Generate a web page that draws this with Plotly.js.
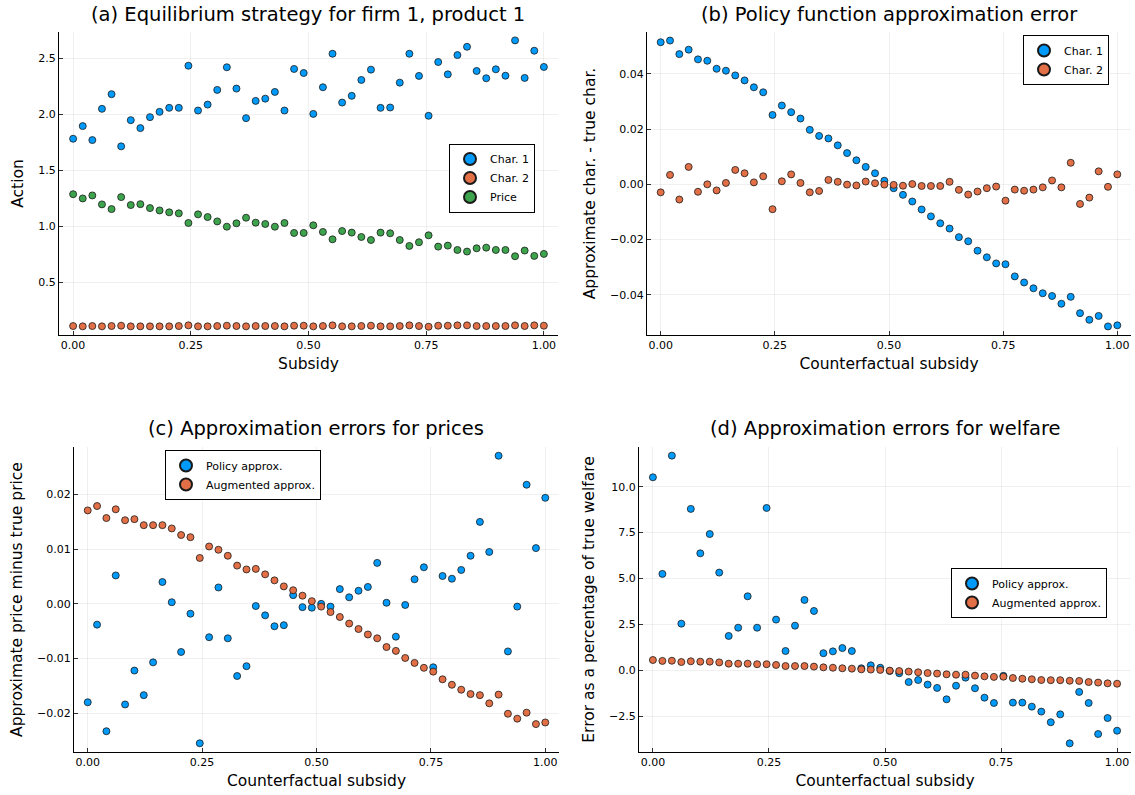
<!DOCTYPE html>
<html>
<head>
<meta charset="utf-8">
<script src="https://cdn.plot.ly/plotly-3.0.1.min.js"></script>
<style>html,body{margin:0;padding:0;background:#fff}</style>
</head>
<body>
<div id="chart" style="width:1135px;height:795px"></div>
<script>
// Counterfactual subsidy grid: 50 evenly spaced points on [0, 1]
const subsidy = Array.from({length: 50}, (_, i) => i / 49);

// (a) Equilibrium strategy for firm 1, product 1
const eqChar1 = [1.782,1.895,1.770,2.049,2.180,1.714,1.948,1.877,1.975,2.022,2.058,2.058,2.434,2.034,2.087,2.218,2.420,2.230,1.966,2.120,2.140,2.200,2.034,2.405,2.369,2.004,2.242,2.541,2.105,2.165,2.307,2.399,2.058,2.061,2.283,2.541,2.343,1.987,2.467,2.357,2.529,2.603,2.387,2.322,2.402,2.345,2.660,2.325,2.568,2.423];
const eqChar2 = [0.110,0.107,0.110,0.107,0.110,0.113,0.107,0.107,0.107,0.107,0.107,0.110,0.116,0.107,0.107,0.110,0.113,0.110,0.107,0.110,0.110,0.110,0.107,0.113,0.113,0.107,0.110,0.116,0.107,0.107,0.110,0.113,0.107,0.107,0.110,0.116,0.110,0.104,0.113,0.113,0.116,0.116,0.110,0.110,0.110,0.110,0.116,0.110,0.116,0.113];
const eqPrice = [1.287,1.249,1.276,1.196,1.154,1.261,1.190,1.198,1.163,1.142,1.125,1.116,1.030,1.107,1.083,1.044,0.997,1.027,1.077,1.033,1.021,0.997,1.030,0.941,0.941,1.009,0.950,0.884,0.958,0.944,0.905,0.878,0.944,0.938,0.878,0.825,0.858,0.920,0.819,0.828,0.789,0.775,0.804,0.810,0.789,0.789,0.733,0.784,0.736,0.754];

// (b) Policy function approximation error
const polErrChar1 = [0.0514,0.0520,0.0471,0.0487,0.0452,0.0447,0.0418,0.0411,0.0394,0.0376,0.0351,0.0333,0.0251,0.0285,0.0261,0.0238,0.0197,0.0175,0.0166,0.0141,0.0113,0.0087,0.0063,0.0040,0.0013,-0.0014,-0.0038,-0.0062,-0.0091,-0.0116,-0.0141,-0.0160,-0.0191,-0.0206,-0.0240,-0.0264,-0.0286,-0.0289,-0.0333,-0.0355,-0.0376,-0.0394,-0.0404,-0.0432,-0.0407,-0.0466,-0.0490,-0.0476,-0.0514,-0.0510];
const polErrChar2 = [-0.0029,0.0034,-0.0055,0.0063,-0.0027,0.0000,-0.0022,0.0005,0.0052,0.0040,0.0007,0.0029,-0.0090,0.0011,0.0036,0.0005,-0.0029,-0.0024,0.0016,0.0009,-0.0001,-0.0004,0.0010,0.0004,-0.0001,-0.0002,-0.0005,0.0001,-0.0006,-0.0006,-0.0006,0.0009,-0.0020,-0.0037,-0.0026,-0.0014,-0.0008,-0.0059,-0.0019,-0.0023,-0.0019,-0.0011,0.0014,-0.0011,0.0078,-0.0071,-0.0048,0.0047,-0.0009,0.0036];

// (c) Approximation errors for prices
const priceErrPolicy = [-0.0180,-0.0038,-0.0233,0.0052,-0.0184,-0.0122,-0.0167,-0.0107,0.0040,0.0003,-0.0088,-0.0018,-0.0255,-0.0061,0.0030,-0.0063,-0.0132,-0.0114,-0.0004,-0.0021,-0.0041,-0.0039,0.0016,-0.0006,-0.0007,0.0000,-0.0005,0.0027,0.0012,0.0024,0.0031,0.0075,0.0002,-0.0060,-0.0002,0.0045,0.0067,-0.0116,0.0051,0.0046,0.0062,0.0088,0.0150,0.0095,0.0271,-0.0087,-0.0005,0.0218,0.0102,0.0194];
const priceErrAug = [0.0171,0.0179,0.0157,0.0173,0.0153,0.0155,0.0144,0.0144,0.0144,0.0138,0.0126,0.0122,0.0084,0.0105,0.0099,0.0088,0.0070,0.0063,0.0064,0.0054,0.0043,0.0032,0.0025,0.0015,0.0005,-0.0005,-0.0015,-0.0024,-0.0036,-0.0046,-0.0056,-0.0063,-0.0079,-0.0086,-0.0099,-0.0108,-0.0117,-0.0124,-0.0138,-0.0148,-0.0157,-0.0165,-0.0167,-0.0182,-0.0166,-0.0201,-0.0210,-0.0199,-0.0220,-0.0217];

// (d) Approximation errors for welfare (% of true welfare)
const welfErrPolicy = [10.51,5.25,11.69,2.54,8.79,6.37,7.42,5.32,1.87,2.32,4.03,2.32,8.84,2.76,1.05,2.43,3.83,3.23,0.93,1.03,1.21,1.05,0.11,0.27,0.14,-0.04,-0.16,-0.64,-0.53,-0.78,-0.96,-1.58,-0.84,-0.40,-0.98,-1.49,-1.78,-0.30,-1.76,-1.76,-1.98,-2.25,-2.83,-2.40,-3.98,-1.18,-1.78,-3.47,-2.60,-3.29];
const welfErrAug = [0.56,0.51,0.52,0.45,0.49,0.47,0.47,0.43,0.36,0.36,0.36,0.33,0.33,0.29,0.23,0.23,0.23,0.20,0.16,0.14,0.11,0.09,0.05,0.04,0.02,-0.02,-0.04,-0.07,-0.11,-0.15,-0.18,-0.22,-0.24,-0.24,-0.29,-0.33,-0.36,-0.35,-0.42,-0.46,-0.49,-0.53,-0.54,-0.54,-0.57,-0.58,-0.64,-0.67,-0.71,-0.73];

const xTicks = [0, 0.25, 0.5, 0.75, 1];
const xTickText = ['0.00', '0.25', '0.50', '0.75', '1.00'];

const BLUE = '#009AFA', ORANGE = '#E26F46', GREEN = '#3DA44D';
const FONT = 'DejaVu Sans, sans-serif';

function pts(x, y, name, color, xa, ya, legend) {
  return {
    type: 'scatter', mode: 'markers', x: x, y: y, name: name,
    xaxis: xa, yaxis: ya, legend: legend,
    marker: {color: color, size: 7, line: {color: '#1a1a1a', width: 0.8}},
    cliponaxis: false
  };
}

const data = [
  pts(subsidy, eqChar1, 'Char. 1', BLUE, 'x', 'y', 'legend'),
  pts(subsidy, eqChar2, 'Char. 2', ORANGE, 'x', 'y', 'legend'),
  pts(subsidy, eqPrice, 'Price', GREEN, 'x', 'y', 'legend'),
  pts(subsidy, polErrChar1, 'Char. 1', BLUE, 'x2', 'y2', 'legend2'),
  pts(subsidy, polErrChar2, 'Char. 2', ORANGE, 'x2', 'y2', 'legend2'),
  pts(subsidy, priceErrPolicy, 'Policy approx.', BLUE, 'x3', 'y3', 'legend3'),
  pts(subsidy, priceErrAug, 'Augmented approx.', ORANGE, 'x3', 'y3', 'legend3'),
  pts(subsidy, welfErrPolicy, 'Policy approx.', BLUE, 'x4', 'y4', 'legend4'),
  pts(subsidy, welfErrAug, 'Augmented approx.', ORANGE, 'x4', 'y4', 'legend4')
];

function axisBase(domain, range, anchor) {
  return {
    domain: domain, range: range, anchor: anchor, automargin: false,
    showline: true, linecolor: '#000', linewidth: 1, mirror: false,
    showgrid: true, gridcolor: 'rgba(0,0,0,0.1)', gridwidth: 0.6,
    zeroline: false, ticks: 'inside', ticklen: 4, tickwidth: 0.8, tickcolor: '#000',
    tickfont: {family: FONT, size: 11, color: '#000'}
  };
}
function xAxis(domain, anchor, title) {
  return Object.assign(axisBase(domain, [-0.03, 1.03], anchor), {
    tickmode: 'array', tickvals: xTicks, ticktext: xTickText,
    title: {text: title, font: {family: FONT, size: 15.5, color: '#000'}, standoff: 6}
  });
}
function yAxis(domain, range, anchor, tickvals, fmt, title) {
  return Object.assign(axisBase(domain, range, anchor), {
    tickmode: 'array', tickvals: tickvals, tickformat: fmt,
    title: {text: title, font: {family: FONT, size: 15.5, color: '#000'}, standoff: 10}
  });
}

const W = 1135, H = 795;
const px = v => v / W, py = v => 1 - v / H;

function legendBox(x, y) {
  return {
    x: x, y: y, xanchor: 'left', yanchor: 'middle', xref: 'paper', yref: 'paper',
    bgcolor: '#fff', bordercolor: '#000', borderwidth: 1,
    font: {family: FONT, size: 11, color: '#000'}, itemsizing: 'constant',
    tracegroupgap: 0
  };
}

function subTitle(text, x, y) {
  return {text: text, x: px(x), y: py(y), xref: 'paper', yref: 'paper',
    xanchor: 'center', yanchor: 'middle', showarrow: false,
    font: {family: FONT, size: 19.5, color: '#000'}};
}

const layout = {
  width: W, height: H, margin: {l: 0, r: 0, t: 0, b: 0},
  paper_bgcolor: '#fff', plot_bgcolor: '#fff',
  font: {family: FONT, color: '#000'},
  xaxis: xAxis([px(59), px(558)], 'y', 'Subsidy'),
  yaxis: yAxis([py(335), py(32)], [0.03, 2.735], 'x', [0.5, 1.0, 1.5, 2.0, 2.5], '.1f', 'Action'),
  xaxis2: xAxis([px(647), px(1131)], 'y2', 'Counterfactual subsidy'),
  yaxis2: yAxis([py(335), py(32)], [-0.0545, 0.0551], 'x2', [-0.04, -0.02, 0, 0.02, 0.04], '.2f', 'Approximate char. - true char.'),
  xaxis3: xAxis([px(74), px(559)], 'y3', 'Counterfactual subsidy'),
  yaxis3: yAxis([py(752), py(447)], [-0.0271, 0.0287], 'x3', [-0.02, -0.01, 0, 0.01, 0.02], '.2f', 'Approximate price minus true price'),
  xaxis4: xAxis([px(639), px(1131)], 'y4', 'Counterfactual subsidy'),
  yaxis4: yAxis([py(752), py(447)], [-4.45, 12.16], 'x4', [-2.5, 0, 2.5, 5, 7.5, 10], '.1f', 'Error as a percentage of true welfare'),
  legend: legendBox(px(449), py(178)),
  legend2: legendBox(px(1023), py(60)),
  legend3: legendBox(px(165), py(475)),
  legend4: legendBox(px(951), py(593)),
  annotations: [
    subTitle('(a) Equilibrium strategy for firm 1, product 1', 308, 15),
    subTitle('(b) Policy function approximation error', 889, 15),
    subTitle('(c) Approximation errors for prices', 316, 428),
    subTitle('(d) Approximation errors for welfare', 885, 428)
  ],
  showlegend: true
};

Plotly.newPlot('chart', data, layout, {displayModeBar: false, staticPlot: true});
</script>
</body>
</html>
